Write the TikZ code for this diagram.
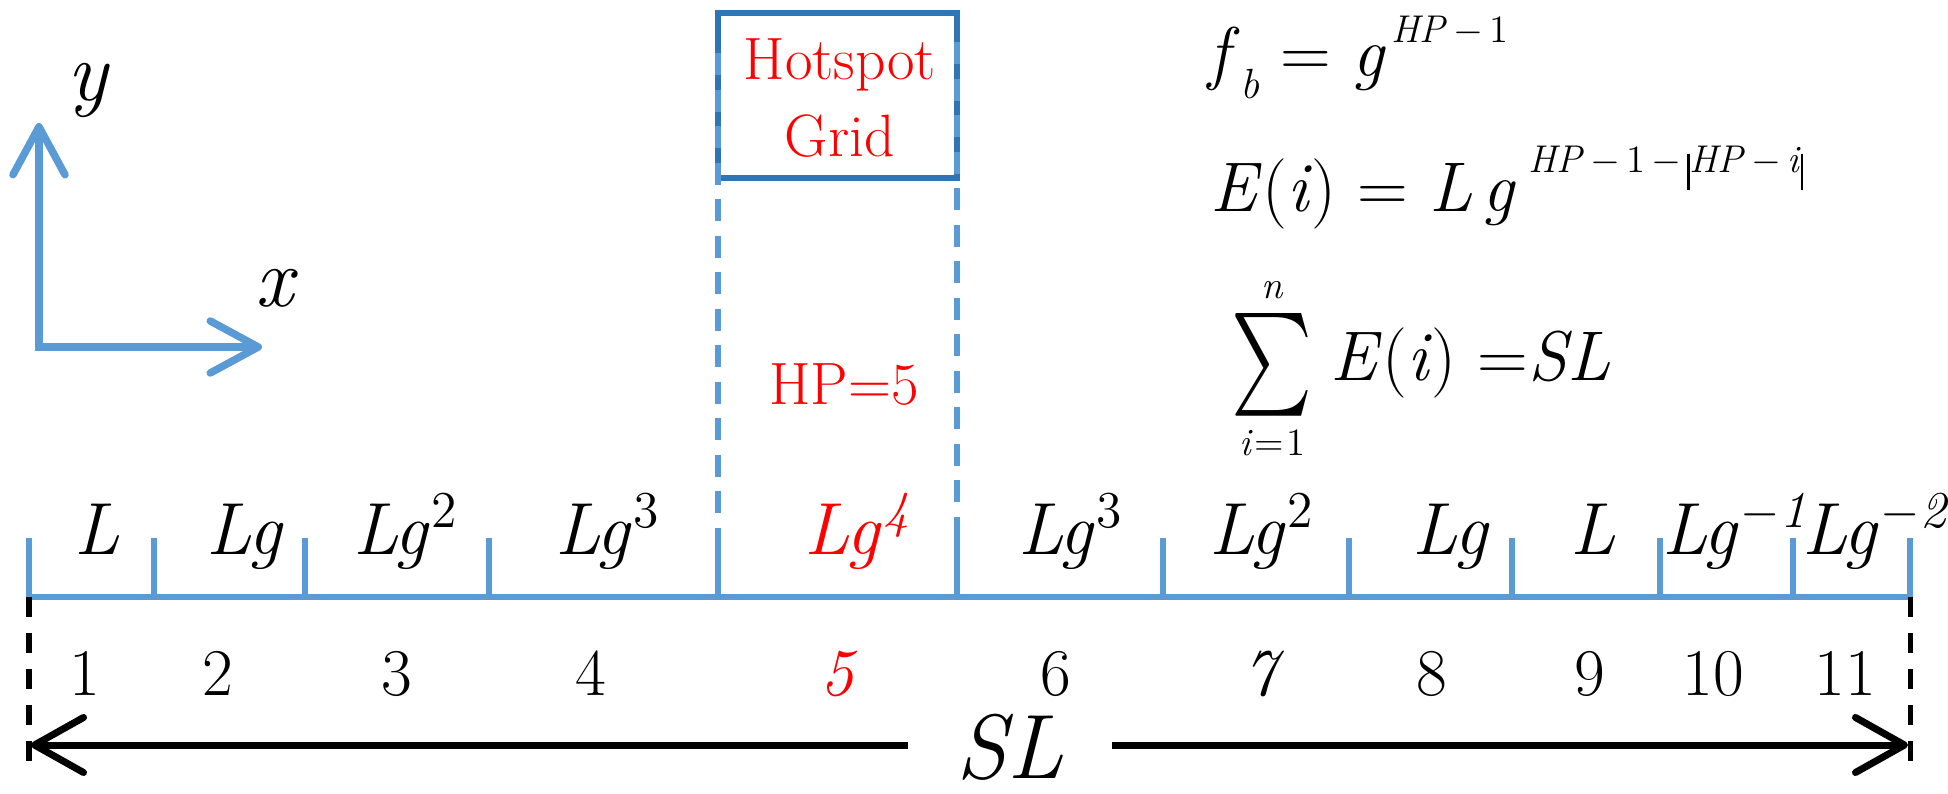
\documentclass[tikz,border=0pt]{standalone}
\usepackage{fontspec}
\usepackage{graphicx}
\usepackage{tikz}
\usetikzlibrary{arrows.meta}
\definecolor{rulerblue}{HTML}{5B9BD5}
\definecolor{boxblue}{HTML}{2E75B6}
\newcommand{\supsize}{\fontsize{11}{11}\selectfont}
\newcommand{\smin}{\hspace{0.06cm}$-$\hspace{0.06cm}}
\newcommand{\absbar}{\rule[-0.17cm]{0.025cm}{0.36cm}}
\newcommand{\pw}[1]{\/\hspace{0.02cm}\textsuperscript{#1}}
\tikzset{
  axistip/.tip={Straight Barb[round, length=0.48cm, width=0.52cm]},
  dimtip/.tip={Straight Barb[round, length=0.49cm, width=0.55cm]},
  ruler/.style={rulerblue, line width=0.06cm},
  gridedge/.style={rulerblue, line width=0.06cm, dash pattern=on 0.22cm off 0.145cm},
  bound/.style={black, line width=0.05cm, dash pattern=on 0.2cm off 0.16cm},
  axislabel/.style={inner sep=0pt, anchor=base, font=\fontsize{24}{24}\selectfont\itshape},
  seglabel/.style={inner sep=0pt, anchor=base, font=\fontsize{21}{21}\selectfont\itshape},
  segnum/.style={inner sep=0pt, anchor=base, font=\fontsize{19}{19}\selectfont},
  segnumit/.style={segnum, font=\fontsize{19}{19}\selectfont\itshape},
  formula/.style={inner sep=0pt, anchor=base west, font=\fontsize{20}{20}\selectfont},
  hottext/.style={inner sep=0pt, anchor=base, text=red, font=\fontsize{17}{17}\selectfont},
}

\begin{document}
\begin{tikzpicture}[x=0.01cm, y=-0.01cm]
\useasboundingbox (0,0) rectangle (1948,794);

% coordinate axes
\coordinate (origin) at (39,347);
\coordinate (ytip) at (39,123);
\coordinate (xtip) at (262,347);
\draw[rulerblue, line width=0.075cm, {axistip}-{axistip}] (ytip) -- (origin) -- (xtip);
\node[axislabel] (ylab) at (88,101) {y};
\node[axislabel] (xlab) at (274,307) {x};

% hotspot grid
\node[draw=boxblue, line width=0.06cm, minimum width=2.39cm, minimum height=1.65cm, inner sep=0pt] (hot) at (837.5,95.5) {};
\node[hottext] (hot1) at (840,80) {Hotspot};
\node[hottext] (hot2) at (840,157) {Grid};
\node[hottext] (hp) at (844,404) {HP=5};

% ruler with one tick per grid cell
\foreach \n/\x in {0/29,1/154,2/305,3/489,4/718,5/957,6/1163,7/1349,8/1512,9/1660,10/1793,11/1910} {
  \coordinate (t\n) at (\x,597);
  \coordinate (u\n) at (\x,538);
}
\coordinate (g4) at (718,53);
\coordinate (g5) at (957,42);
\draw[gridedge] (g4) -- (u4);
\draw[gridedge] (g5) -- (u5);
\draw[ruler] (u0) -- (t0) -- (t11) -- (u11);
\foreach \n in {1,...,10} \draw[ruler] (t\n) -- (u\n);

% cell lengths
\node[seglabel] (len1) at (97,554) {L};
\node[seglabel] (len2) at (244,554) {Lg};
\node[seglabel] (len3) at (406,554) {Lg\pw{\upshape 2}};
\node[seglabel] (len4) at (608,554) {Lg\pw{\upshape 3}};
\node[seglabel, text=red] (len5) at (858,554) {Lg\pw{4}};
\node[seglabel] (len6) at (1071,554) {Lg\pw{\upshape 3}};
\node[seglabel] (len7) at (1262,554) {Lg\pw{\upshape 2}};
\node[seglabel] (len8) at (1450,554) {Lg};
\node[seglabel] (len9) at (1593,554) {L};
\node[seglabel] (len10) at (1735,554) {Lg\pw{$-$1}};
\node[seglabel] (len11) at (1875,554) {Lg\pw{$-$2}};

% cell numbers
\foreach \n/\x in {1/85,2/218,3/397,4/591,6/1056,8/1432,9/1590,10/1713,11/1845}
  \node[segnum] (cell\n) at (\x,695) {\n};
\node[segnumit, text=red] (cell5) at (837,695) {5};
\node[segnumit] (cell7) at (1260,695) {7};

% total length
\coordinate (b0) at (29,772);
\coordinate (b11) at (1910,772);
\draw[bound] (t0) -- (b0);
\draw[bound] (t11) -- (b11);
\coordinate (endl) at (31,745);
\coordinate (endr) at (1908,745);
\node[inner sep=0pt, inner xsep=0.48cm, anchor=base, font=\fontsize{26}{26}\selectfont\itshape] (sl) at (1010,778) {SL};
\draw[line width=0.07cm, -{dimtip}] (endl -| sl.west) -- (endl);
\draw[line width=0.07cm, -{dimtip}] (endr -| sl.east) -- (endr);

% formulas
\node[formula] (fb) at (1208,77) {\textit{f}\raisebox{-0.21cm}{\fontsize{12}{12}\selectfont\textit{b}} = \textit{g}\hspace{0.06cm}\raisebox{0.34cm}{\supsize\textit{HP}\smin 1}};
\node[formula] (Ei) at (1210,212) {\textit{E}(\textit{i}) = \textit{L}\hspace{0.1cm}\textit{g}\hspace{0.12cm}\raisebox{0.39cm}{\supsize\textit{HP}\smin 1\smin\absbar\textit{HP}\smin\textit{i}\absbar}};
\node[inner sep=0pt] (sigma) at (1272,365) {\resizebox{0.81cm}{0.77cm}{$\sum$}};
\node[inner sep=0pt, anchor=base, font=\fontsize{11}{11}\selectfont\itshape] (sumn) at (1272,298) {n};
\node[inner sep=0pt, anchor=base, font=\fontsize{11}{11}\selectfont] (sumi) at (1272,455) {\textit{i}\hspace{0.02cm}=\hspace{0.02cm}1};
\node[formula] (sum) at (1330,380) {\textit{E}(\textit{i}) =\textit{SL}};
\end{tikzpicture}
\end{document}
